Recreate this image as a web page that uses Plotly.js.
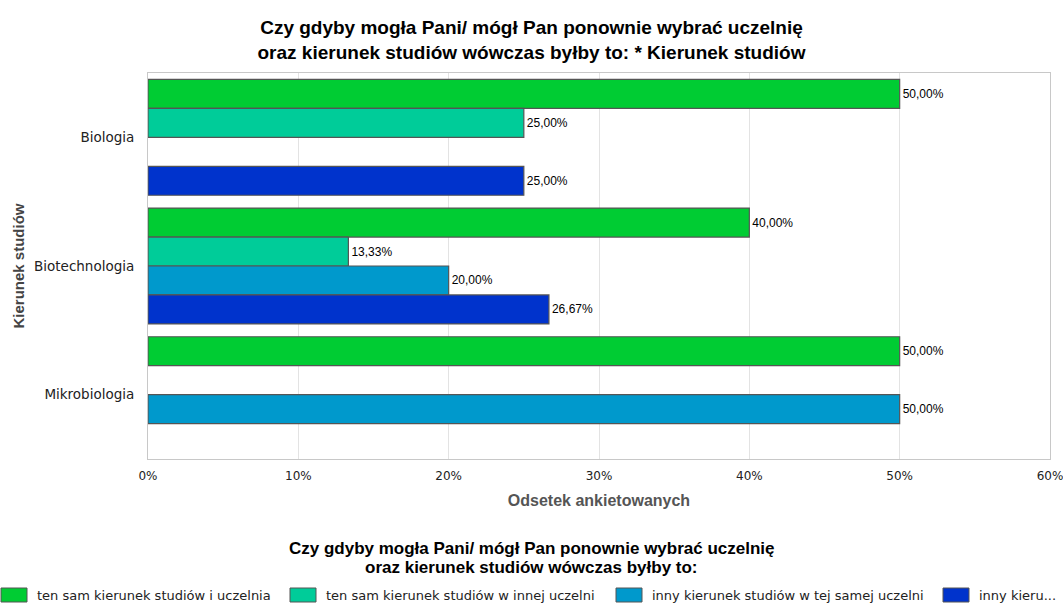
<!DOCTYPE html>
<html>
<head>
<meta charset="utf-8">
<script src="https://cdn.plot.ly/plotly-3.0.1.min.js"></script>
<style>html,body{margin:0;padding:0;background:#fff;}#chart{width:1063px;height:603px;}</style>
</head>
<body>
<div id="chart"></div>
<script>
// ---- data ----
const categories = ['Biologia', 'Biotechnologia', 'Mikrobiologia'];
const seriesNames = [
  'ten sam kierunek studiów i uczelnia',
  'ten sam kierunek studiów w innej uczelni',
  'inny kierunek studiów w tej samej uczelni',
  'inny kierunek studiów i inna uczelnia'
];
const legendLabels = [
  'ten sam kierunek studiów i uczelnia',
  'ten sam kierunek studiów w innej uczelni',
  'inny kierunek studiów w tej samej uczelni',
  'inny kieru...'
];
const sameFieldSameUni   = [50, 40, 50];
const sameFieldOtherUni  = [25, 13.33, null];
const otherFieldSameUni  = [null, 20, 50];
const otherFieldOtherUni = [25, 26.67, null];
const xTickVals = [0, 10, 20, 30, 40, 50, 60];
const xTickText = ['0%', '10%', '20%', '30%', '40%', '50%', '60%'];
const chartTitle = 'Czy gdyby mogła Pani/ mógł Pan ponownie wybrać uczelnię<br>oraz kierunek studiów wówczas byłby to: * Kierunek studiów';
const legendTitleLines = ['Czy gdyby mogła Pani/ mógł Pan ponownie wybrać uczelnię', 'oraz kierunek studiów wówczas byłby to:'];
const xTitle = 'Odsetek ankietowanych';
const yTitle = 'Kierunek studiów';

// ---- style ----
const colors = ['#00CC33', '#00CC99', '#0099CC', '#0033CC'];
const seriesValues = [sameFieldSameUni, sameFieldOtherUni, otherFieldSameUni, otherFieldOtherUni];

const W = 1063, H = 603;
const M = {l: 148, r: 13, t: 73, b: 144};
const PW = W - M.l - M.r, PH = H - M.t - M.b;
const px = x => (x - M.l) / PW;
const py = y => (H - M.b - y) / PH;

function fmt(v) { return v == null ? '' : v.toFixed(2).replace('.', ',') + '%'; }

const traces = seriesValues.map((vals, i) => ({
  type: 'bar',
  orientation: 'h',
  name: seriesNames[i],
  y: categories,
  x: vals,
  text: vals.map(fmt),
  textposition: 'outside',
  cliponaxis: false,
  textfont: {family: 'Liberation Sans, Arial, sans-serif', size: 12, color: '#000'},
  marker: {color: colors[i], line: {color: '#555555', width: 1.2}},
  hoverinfo: 'x+y+name'
}));

// manual legend
const legendStarts = [1, 290, 616, 943];
const shapes = [];
const annotations = [];
legendLabels.forEach((lab, i) => {
  const x0 = legendStarts[i];
  shapes.push({
    type: 'rect', xref: 'paper', yref: 'paper',
    x0: px(x0), x1: px(x0 + 26), y0: py(602), y1: py(588),
    fillcolor: colors[i], line: {color: '#555555', width: 1}
  });
  annotations.push({
    xref: 'paper', yref: 'paper', x: px(x0 + 34), y: py(595),
    xanchor: 'left', yanchor: 'middle', showarrow: false, text: lab,
    font: {family: 'DejaVu Sans, sans-serif', size: 13, color: '#222'}
  });
});
const legendTitleY = [548, 567];
legendTitleLines.forEach((t, i) => {
  annotations.push({
    xref: 'paper', yref: 'paper', x: px(531.5), y: py(legendTitleY[i]),
    xanchor: 'center', yanchor: 'middle', showarrow: false, text: t,
    font: {family: 'Liberation Sans, Arial, sans-serif', size: 17, color: '#000', weight: 'bold'}
  });
});

const layout = {
  width: W, height: H,
  margin: M,
  paper_bgcolor: '#fff', plot_bgcolor: '#fff',
  barmode: 'group', bargap: 0.1, bargroupgap: 0,
  showlegend: false,
  title: {
    text: chartTitle, xref: 'container', yref: 'container', x: 0.5, y: 1 - 34 / H,
    xanchor: 'center', yanchor: 'middle',
    font: {family: 'Liberation Sans, Arial, sans-serif', size: 19, color: '#000', weight: 'bold'}
  },
  xaxis: {
    range: [0, 60], tickvals: xTickVals, ticktext: xTickText,
    showgrid: true, gridcolor: '#e3e3e3', gridwidth: 1,
    showline: true, linecolor: '#c8c8c8', linewidth: 1, mirror: true,
    zeroline: false, ticks: '', ticklabelstandoff: 6, ticklabeloverflow: 'allow',
    tickfont: {family: 'DejaVu Sans, sans-serif', size: 12, color: '#222'},
    title: {text: xTitle, standoff: 12, font: {family: 'Liberation Sans, Arial, sans-serif', size: 16, color: '#555', weight: 'bold'}},
    fixedrange: true
  },
  yaxis: {
    type: 'category', range: [2.5, -0.5], autorange: false,
    showgrid: false, showline: true, linecolor: '#c8c8c8', linewidth: 1, mirror: true,
    ticks: '', ticklabelstandoff: 10,
    tickfont: {family: 'DejaVu Sans, sans-serif', size: 13.5, color: '#222'},
    title: {text: yTitle, standoff: 5, font: {family: 'Liberation Sans, Arial, sans-serif', size: 15, color: '#444', weight: 'bold'}},
    fixedrange: true
  },
  shapes: shapes,
  annotations: annotations
};

Plotly.newPlot('chart', traces, layout, {displayModeBar: false});
</script>
</body>
</html>
